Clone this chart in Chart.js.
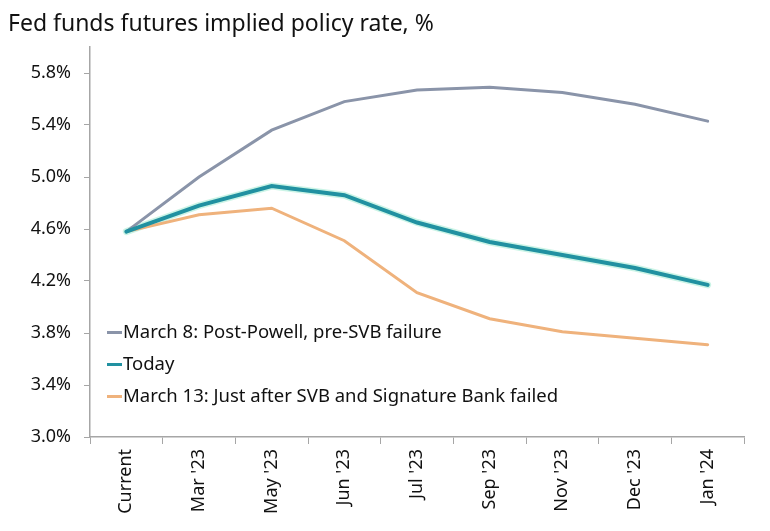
<!DOCTYPE html>
<html>
<head>
<meta charset="utf-8">
<script src="https://cdn.jsdelivr.net/npm/chart.js@4.4.1/dist/chart.umd.min.js"></script>
<style>
    html, body { margin: 0; padding: 0; background: #fff; }
    #wrap { position: relative; width: 770px; height: 531px; }
    #title {
        position: absolute; left: 8px; top: 6px;
        font-family: 'Noto Sans', sans-serif; font-size: 23px; color: #111;
    }
    #legend {
        position: absolute; left: 107px; top: 317px;
        font-family: 'Noto Sans', sans-serif; font-size: 18.5px; color: #111;
    }
    #legend div { height: 32px; line-height: 28px; white-space: nowrap; }
    #legend span.sw {
        display: inline-block; width: 15px; height: 3px; vertical-align: middle;
        margin-right: 1px; position: relative; top: -1px;
    }
</style>
</head>
<body>
<div id="wrap">
    <canvas id="c" width="770" height="531"></canvas>
    <div id="title">Fed funds futures implied policy rate, %</div>
    <div id="legend"></div>
</div>
<script>
// ── DATOS ──
const LABELS = ['Current', "Mar '23", "May '23", "Jun '23", "Jul '23", "Sep '23", "Nov '23", "Dec '23", "Jan '24"];
const MARCH8 = [4.58, 5.00, 5.36, 5.58, 5.67, 5.69, 5.65, 5.56, 5.43];
const TODAY = [4.58, 4.78, 4.93, 4.86, 4.65, 4.50, 4.40, 4.30, 4.17];
const MARCH13 = [4.58, 4.71, 4.76, 4.51, 4.11, 3.91, 3.81, 3.76, 3.71];
const Y_TICKS = [3.0, 3.4, 3.8, 4.2, 4.6, 5.0, 5.4, 5.8];

const SERIES = [
    { label: 'March 8: Post-Powell, pre-SVB failure', data: MARCH8, color: '#8a94a9', width: 3 },
    { label: 'Today', data: TODAY, color: '#2191a1', width: 4 },
    { label: 'March 13: Just after SVB and Signature Bank failed', data: MARCH13, color: '#efb27c', width: 3 }
];

// leyenda HTML
document.getElementById('legend').innerHTML = SERIES.map(s =>
    `<div><span class="sw" style="background:${s.color}"></span>${s.label}</div>`).join('');

const datasets = [
    // halo verde claro bajo la línea "Today"
    { label: '_glow', data: TODAY, borderColor: 'rgba(140,230,200,.45)', borderWidth: 7, pointRadius: 0, tension: 0, borderCapStyle: 'round', order: 3 }
].concat(SERIES.map((s, i) => ({
    label: s.label,
    data: s.data,
    borderColor: s.color,
    borderWidth: s.width,
    pointRadius: 0,
    tension: 0,
    borderCapStyle: 'round',
    order: i === 1 ? 1 : 2
})));

new Chart(document.getElementById('c').getContext('2d'), {
    type: 'line',
    data: { labels: LABELS, datasets: datasets },
    options: {
        responsive: false,
        animation: false,
        layout: { padding: { left: 8, right: 26, top: 47, bottom: 0 } },
        plugins: { legend: { display: false }, title: { display: false }, tooltip: { enabled: false } },
        scales: {
            x: {
                offset: true,
                grid: { offset: true, drawOnChartArea: false, tickLength: 7, color: '#a6a6a6' },
                border: { color: '#a6a6a6', width: 1.5 },
                ticks: {
                    minRotation: 90, maxRotation: 90, padding: 5,
                    color: '#111', font: { family: 'Noto Sans', size: 18 }
                },
                afterFit: s => { s.height = 94; }
            },
            y: {
                min: 3.0, max: 6.0,
                afterBuildTicks: s => { s.ticks = Y_TICKS.map(v => ({ value: v })); },
                grid: { drawOnChartArea: false, tickLength: 6, color: '#a6a6a6' },
                border: { color: '#a6a6a6', width: 1.5 },
                ticks: {
                    padding: 13, color: '#111', font: { family: 'Noto Sans', size: 18 },
                    callback: v => v.toFixed(1) + '%'
                },
                afterFit: s => { s.width = 82; }
            }
        }
    }
});
</script>
</body>
</html>
